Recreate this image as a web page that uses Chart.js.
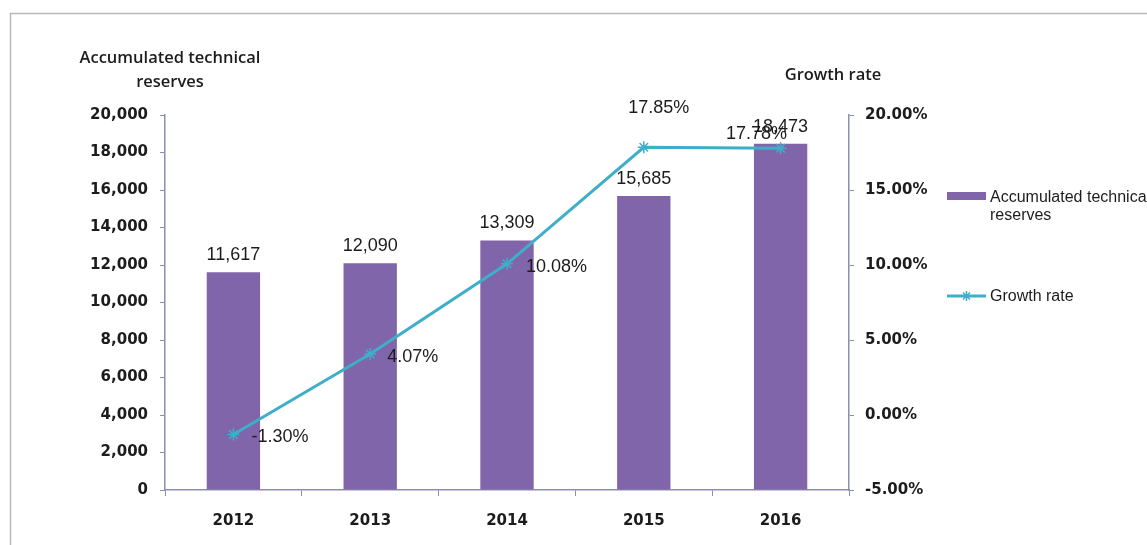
<!DOCTYPE html>
<html>
<head>
<meta charset="utf-8">
<script src="https://cdn.jsdelivr.net/npm/chart.js@4.4.0/dist/chart.umd.min.js"></script>
<style>
    html, body { margin: 0; padding: 0; background: #fff; }
    #wrap { width: 1147px; height: 545px; }
</style>
</head>
<body>
<div id="wrap"><canvas id="reserves-chart" width="1147" height="545"></canvas></div>
<script>
// reserves (left axis) and growth rate in % (right axis), one entry per year
var years = ["2012", "2013", "2014", "2015", "2016"];
var reserves = [11617, 12090, 13309, 15685, 18473];
var growthRate = [-1.30, 4.07, 10.08, 17.85, 17.78];

var reserveRange = { min: 0, max: 20000, step: 2000 };
var rateRange = { min: -5, max: 20, step: 5 };

var leftTitle = ["Accumulated technical", "reserves"];
var rightTitle = "Growth rate";

var BAR_COLOR = "#8165aa";
var LINE_COLOR = "#3eaec9";
var AXIS_COLOR = "#8b8fae";
var TEXT_COLOR = "#1c1c1c";
var TICK_FONT = { family: "'DejaVu Sans', Verdana, sans-serif", size: 15, weight: "bold" };
var LABEL_FONT = "18px 'Liberation Sans', Arial, sans-serif";
var LEGEND_FONT = "16px 'Liberation Sans', Arial, sans-serif";
var TITLE_FONT = "600 16.5px 'Open Sans', sans-serif";

// where each growth label sits relative to its point
var rateLabelPos = [
    { dx: 18, dy: 3, align: "left" },
    { dx: 17, dy: 3, align: "left" },
    { dx: 19, dy: 3, align: "left" },
    { dx: 15, dy: -39, align: "center" },
    { dx: -24, dy: -14, align: "center" }
];

var framePlugin = {
    id: "frame",
    beforeDraw: function (chart) {
        var ctx = chart.ctx;
        ctx.save();
        ctx.strokeStyle = "#b8b8bc";
        ctx.lineWidth = 1.5;
        ctx.beginPath();
        ctx.moveTo(10.5, chart.height);
        ctx.lineTo(10.5, 13.5);
        ctx.lineTo(chart.width, 13.5);
        ctx.stroke();
        ctx.restore();
    }
};

var valueLabelPlugin = {
    id: "valueLabels",
    afterDatasetsDraw: function (chart) {
        var ctx = chart.ctx;
        ctx.save();
        ctx.font = LABEL_FONT;
        ctx.fillStyle = TEXT_COLOR;

        ctx.textAlign = "center";
        ctx.textBaseline = "alphabetic";
        chart.getDatasetMeta(1).data.forEach(function (bar, i) {
            ctx.fillText(reserves[i].toLocaleString("en-US"), bar.x, bar.y - 12);
        });

        ctx.textBaseline = "middle";
        chart.getDatasetMeta(0).data.forEach(function (pt, i) {
            var p = rateLabelPos[i];
            ctx.textAlign = p.align;
            ctx.fillText(growthRate[i].toFixed(2) + "%", pt.x + p.dx, pt.y + p.dy);
        });
        ctx.restore();
    }
};

var axisTitlePlugin = {
    id: "axisTitles",
    afterDraw: function (chart) {
        var ctx = chart.ctx;
        var left = chart.scales.yReserve;
        var right = chart.scales.yRate;
        ctx.save();
        ctx.font = TITLE_FONT;
        ctx.fillStyle = TEXT_COLOR;
        ctx.textAlign = "center";
        ctx.textBaseline = "alphabetic";
        ctx.fillText(leftTitle[0], left.right + 5, 63);
        ctx.fillText(leftTitle[1], left.right + 5, 87);
        ctx.fillText(rightTitle, right.left - 16, 80);
        ctx.restore();
    }
};

// legend at the right, wrapping long names onto a second line
var legendPlugin = {
    id: "sideLegend",
    afterDraw: function (chart) {
        var ctx = chart.ctx;
        var bars = chart.data.datasets[1];
        var line = chart.data.datasets[0];
        var x0 = 947, x1 = 986, tx = 990;
        ctx.save();
        ctx.font = LEGEND_FONT;
        ctx.fillStyle = TEXT_COLOR;
        ctx.textAlign = "left";
        ctx.textBaseline = "alphabetic";

        ctx.fillStyle = bars.backgroundColor;
        ctx.fillRect(x0, 192, x1 - x0, 8);
        ctx.fillStyle = TEXT_COLOR;
        var words = bars.label.split(" ");
        var lines = [], cur = "";
        words.forEach(function (w) {
            var test = cur ? cur + " " + w : w;
            if (cur && ctx.measureText(test).width > 175) { lines.push(cur); cur = w; }
            else cur = test;
        });
        lines.push(cur);
        lines.forEach(function (l, i) { ctx.fillText(l, tx, 202 + i * 18); });

        ctx.strokeStyle = line.borderColor;
        ctx.lineWidth = 3;
        ctx.beginPath();
        ctx.moveTo(x0, 296);
        ctx.lineTo(x1, 296);
        ctx.stroke();
        var cx = (x0 + x1) / 2, r = 5;
        ctx.lineWidth = 1.5;
        ctx.beginPath();
        ctx.moveTo(cx, 296 - r); ctx.lineTo(cx, 296 + r);
        ctx.moveTo(cx - r * 0.7, 296 - r * 0.7); ctx.lineTo(cx + r * 0.7, 296 + r * 0.7);
        ctx.moveTo(cx - r * 0.7, 296 + r * 0.7); ctx.lineTo(cx + r * 0.7, 296 - r * 0.7);
        ctx.stroke();
        ctx.fillText(line.label, tx, 301);
        ctx.restore();
    }
};

new Chart(document.getElementById("reserves-chart"), {
    type: "bar",
    data: {
        labels: years,
        datasets: [{
            type: "line",
            label: "Growth rate",
            data: growthRate,
            yAxisID: "yRate",
            borderColor: LINE_COLOR,
            backgroundColor: LINE_COLOR,
            borderWidth: 3,
            pointStyle: "star",
            pointRadius: 6,
            pointBorderWidth: 1.5,
            pointBorderColor: LINE_COLOR,
            tension: 0,
            order: 0
        }, {
            type: "bar",
            label: "Accumulated technical reserves",
            data: reserves,
            yAxisID: "yReserve",
            backgroundColor: BAR_COLOR,
            categoryPercentage: 1,
            barPercentage: 0.39,
            order: 1
        }]
    },
    options: {
        responsive: false,
        animation: false,
        layout: { padding: { left: 0, top: 115, right: 0, bottom: 0 } },
        plugins: {
            legend: { display: false },
            tooltip: { enabled: false }
        },
        scales: {
            x: {
                offset: true,
                grid: { offset: true, drawOnChartArea: false, tickLength: 6, color: AXIS_COLOR },
                border: { color: AXIS_COLOR, width: 1.5 },
                ticks: { font: TICK_FONT, color: TEXT_COLOR, padding: 16 },
                afterFit: function (s) { s.height = 55; }
            },
            yReserve: {
                position: "left",
                min: reserveRange.min,
                max: reserveRange.max,
                ticks: {
                    stepSize: reserveRange.step,
                    font: TICK_FONT,
                    color: TEXT_COLOR,
                    padding: 12,
                    callback: function (v) { return v.toLocaleString("en-US"); }
                },
                grid: { drawOnChartArea: false, tickLength: 5, color: AXIS_COLOR },
                border: { color: AXIS_COLOR, width: 1.5 },
                afterFit: function (s) { s.width = 165; }
            },
            yRate: {
                position: "right",
                min: rateRange.min,
                max: rateRange.max,
                ticks: {
                    stepSize: rateRange.step,
                    font: TICK_FONT,
                    color: TEXT_COLOR,
                    padding: 11,
                    callback: function (v) { return v.toFixed(2) + "%"; }
                },
                grid: { drawOnChartArea: false, tickLength: 5, color: AXIS_COLOR },
                border: { color: AXIS_COLOR, width: 1.5 },
                afterFit: function (s) { s.width = 298; }
            }
        }
    },
    plugins: [framePlugin, valueLabelPlugin, axisTitlePlugin, legendPlugin]
});
</script>
</body>
</html>
